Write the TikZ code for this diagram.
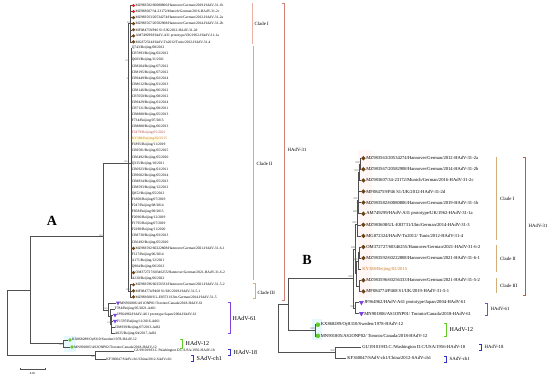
\documentclass[tikz,border=0pt]{standalone}
\usepackage{fontspec}
\setmainfont{Liberation Serif}
\usepackage{tikz}
\usetikzlibrary{calc,positioning,shapes.geometric}

\definecolor{treegray}{HTML}{505050}
\definecolor{refbrown}{HTML}{6E4210}
\definecolor{refred}{HTML}{E41A1C}
\definecolor{advpurple}{HTML}{8045E0}
\definecolor{advgreen}{HTML}{66CC2A}
\definecolor{advblue}{HTML}{3030C8}
\definecolor{cladetan}{HTML}{D4AE78}
\definecolor{cladepink}{HTML}{E8B2A2}
\definecolor{hadvred}{HTML}{C0584A}
\definecolor{kyorange}{HTML}{D07820}
\definecolor{fred}{HTML}{B04848}

%% tip positions
\newcommand{\ya}[1]{5.5+6.07*#1}
\newcommand{\yb}[1]{158.2+11.1*#1}
%% plain tip: name, x, y, text
\newcommand{\leafA}[4]{\coordinate (#1) at (#2,{#3});
  \node[leafa] (#1-l) at (#1) {#4};}
\newcommand{\leafB}[4]{\coordinate (#1) at (#2,{#3});
  \node[leafb] (#1-l) at ([xshift=1pt]#1) {#4};}
%% marked tip: name, x, y, mark, text
\newcommand{\markA}[5]{\coordinate (#1) at (#2,{#3});
  \node[#4] (#1-m) at ([xshift=2pt]#1) {};
  \node[leafa] (#1-l) at ([xshift=3.8pt]#1) {#5};}
\newcommand{\markB}[5]{\coordinate (#1) at (#2,{#3});
  \node[#4] (#1-m) at ([xshift=2.4pt]#1) {};
  \node[leafb] (#1-l) at ([xshift=5pt]#1) {#5};}
%% bracket: x, top, bottom, colour
\newcommand{\brk}[4]{\draw[bk,#4] (#1-2,#2) -- (#1,#2) -- (#1,#3) -- (#1-2,#3);}
%% clade bar: x, top, bottom, colour
\newcommand{\cbar}[4]{\draw[bk,#4] (#1,#2) -- (#1,#3);}

\begin{document}
\begin{tikzpicture}[
    x=1pt, y=-1pt,
    branch/.style={draw=treegray, line width=0.45pt},
    leafa/.style={anchor=west, inner sep=0.2pt, font=\fontsize{3.6}{4}\selectfont},
    leafb/.style={anchor=west, inner sep=0.2pt, font=\fontsize{4.6}{5}\selectfont},
    boot/.style={anchor=south east, inner sep=0.3pt, font=\fontsize{2.4}{2.6}\selectfont, text=treegray},
    bootb/.style={boot, font=\fontsize{2.8}{3}\selectfont},
    refdot/.style={circle, fill=refred, inner sep=0pt, minimum size=3.2pt},
    refdia/.style={diamond, fill=refbrown, inner sep=0pt, minimum size=3.6pt},
    refdiab/.style={refdia, minimum size=4.6pt},
    tri/.style={regular polygon, regular polygon sides=3, shape border rotate=180,
        fill=advpurple, inner sep=0pt, minimum size=4.8pt},
    trib/.style={tri, minimum size=5.6pt},
    gdot/.style={circle, fill=advgreen, inner sep=0pt, minimum size=3.8pt},
    gdotb/.style={gdot, minimum size=4.6pt},
    bk/.style={line width=0.7pt},
    cladelab/.style={anchor=west, inner sep=0.5pt, font=\fontsize{4.8}{5}\selectfont},
    typelab/.style={anchor=west, inner sep=0.5pt, font=\fontsize{6}{6}\selectfont},
    panel/.style={font=\fontsize{14}{14}\selectfont\bfseries}
]
    \useasboundingbox (0,0) rectangle (550,378);
    %% light highlights
    \fill[pink!14] (358,150) rectangle (372,298);
    \fill[cyan!10] (312,319) rectangle (322,340);
    \fill[cyan!10] (64,336) rectangle (76,352);
    \fill[yellow!12] (131.5,136.5) rectangle (160,141.6);

    %% ===== Panel A: tips =====
    \markA{a0}{131.5}{\ya{0}}{refdot}{MZ983582/60080806/Hannover/German/2019-HAdV-31-1b}
    \markA{a1}{131.5}{\ya{1}}{refdot}{MZ983607/34-23172/Munich/German/2016-HAdV-31-2c}
    \markA{a2}{131.5}{\ya{2}}{refdia}{MZ983563/20534274/Hannover/German/2012-HAdV-31-2a}
    \markA{a3}{131.5}{\ya{3}}{refdia}{MZ983567/20582908/Hannover/German/2014-HAdV-31-2b}
    \markA{a4}{131.5}{\ya{4}}{refdia}{MF084759/P46 S1/UK/2012-HAdV-31-2d}
    \markA{a5}{131.5}{\ya{5}}{refdia}{AM749299/HAdV-A31 prototype/UK/1962-HAdV-31-1a}
    \markA{a6}{131.5}{\ya{6}}{refdia}{MG872324/HAdV-Tn2012/Tunis/2012-HAdV-31-4}
    \leafA{a7}{131.5}{\ya{7}}{Q743/Beijing/08/2012}
    \leafA{a8}{131.5}{\ya{8}}{CR7893/Beijing/02/2012}
    \leafA{a9}{131.5}{\ya{9}}{Q603/Beijing/11/2011}
    \leafA{a10}{131.5}{\ya{10}}{CR8204/Beijing/07/2012}
    \leafA{a11}{131.5}{\ya{11}}{CR8195/Beijing/07/2012}
    \leafA{a12}{131.5}{\ya{12}}{CR9449/Beijing/02/2014}
    \leafA{a13}{131.5}{\ya{13}}{CR8612/Beijing/01/2013}
    \leafA{a14}{131.5}{\ya{14}}{CR8146/Beijing/06/2012}
    \leafA{a15}{131.5}{\ya{15}}{CR7050/Beijing/08/2012}
    \leafA{a16}{131.5}{\ya{16}}{CR9429/Beijing/01/2014}
    \leafA{a17}{131.5}{\ya{17}}{CR7121/Beijing/08/2011}
    \leafA{a18}{131.5}{\ya{18}}{CR8808/Beijing/05/2013}
    \leafA{a19}{131.5}{\ya{19}}{F734/Beijing/07/2015}
    \leafA{a20}{131.5}{\ya{20}}{CR8888/Beijing/06/2013}
    \leafA{a21}{131.5}{\ya{21}}{\textcolor{fred}{F2479/Beijing/05/2021}}
    \leafA{a22}{131.5}{\ya{22}}{\textcolor{kyorange}{KY388/Beijing/02/2015}}
    \leafA{a23}{131.5}{\ya{23}}{F1895/Beijing/11/2019}
    \leafA{a24}{131.5}{\ya{24}}{CR9581/Beijing/05/2015}
    \leafA{a25}{131.5}{\ya{25}}{CR6492/Beijing/05/2010}
    \leafA{a26}{131.5}{\ya{26}}{Q335/Beijing/10/2011}
    \leafA{a27}{131.5}{\ya{27}}{CR6923/Beijing/01/2011}
    \leafA{a28}{131.5}{\ya{28}}{CR9602/Beijing/05/2014}
    \leafA{a29}{131.5}{\ya{29}}{CR8834/Beijing/05/2013}
    \leafA{a30}{131.5}{\ya{30}}{CR8593/Beijing/12/2012}
    \leafA{a31}{131.5}{\ya{31}}{Q852/Beijing/05/2012}
    \leafA{a32}{131.5}{\ya{32}}{F1800/Beijing/07/2019}
    \leafA{a33}{131.5}{\ya{33}}{F247/Beijing/08/2014}
    \leafA{a34}{131.5}{\ya{34}}{F858/Beijing/09/2015}
    \leafA{a35}{131.5}{\ya{35}}{F2096/Beijing/12/2019}
    \leafA{a36}{131.5}{\ya{36}}{F1795/Beijing/07/2019}
    \leafA{a37}{131.5}{\ya{37}}{F2290/Beijing/11/2020}
    \leafA{a38}{131.5}{\ya{38}}{CR8730/Beijing/03/2013}
    \leafA{a39}{131.5}{\ya{39}}{CR6492/Beijing/05/2010}
    \markA{a40}{131.5}{\ya{40}}{refdia}{MZ983592/60222808/Hannover/German/2021-HAdV-31-6-1}
    \leafA{a41}{131.5}{\ya{41}}{F127/Beijing/06/2014}
    \leafA{a42}{131.5}{\ya{42}}{A171/Beijing/12/2021}
    \leafA{a43}{131.5}{\ya{43}}{Q904/Beijing/06/2012}
    \markA{a44}{131.5}{\ya{44}}{refdia}{OM372727/60346255/Hannover/German/2021-HAdV-31-6-2}
    \leafA{a45}{131.5}{\ya{45}}{A220/Beijing/06/2022}
    \markA{a46}{131.5}{\ya{46}}{refdia}{MZ983596/60256333/Hannover/German/2021-HAdV-31-5-2}
    \markA{a47}{131.5}{\ya{47}}{refdia}{MF084774/P468 S1/UK/2019-HAdV-31-5-1}
    \markA{a48}{131.5}{\ya{48}}{refdia}{MZ983608/UL-E83731/Ulm/German/2014-HAdV-31-5}
    \markA{a49}{116}{\ya{49}}{tri}{MN901806/AS1ONP01/Toronto/Canada/2018-HAdV-61}
    \leafA{a50}{114.5}{\ya{50}}{F784/Beijing/05/2021-Ad61}
    \markA{a51}{113}{\ya{51}}{tri}{JF964962/HAdV-A61 prototype/Japan/2004-HAdV-61}
    \markA{a52}{113}{\ya{52}}{tri}{F1597/Beijing/11/2016-Ad61}
    \leafA{a53}{114.5}{\ya{53}}{CR8939/Beijing/07/2013-Ad61}
    \leafA{a54}{114.5}{\ya{54}}{A825/Beijing/04/2017-Ad61}
    \markA{a55}{68}{340}{gdot}{KX868289/Oy8310/Sweden/1978-HAdV-12}
    \markA{a56}{70}{347}{gdot}{MN901805/AS2ONP02/Toronto/Canada/2018-HAdV-12}
    \leafA{a57}{134}{351}{GU191019/D.C./Washington D.C/USA/1956-HAdV-18}
    \leafA{a58}{106}{359}{KF360047/SAdV-ch1/China/2012-SAdV-ch1}

    %% Panel A: inner nodes
    \coordinate (cI) at (130,23.71);
    \coordinate (cII) at (131,163.32);
    \coordinate (cIII) at (130,290.79);
    \coordinate (r31) at (128,163.32);
    \coordinate (g61c) at (111.5,324.2);
    \coordinate (g61b) at (110,316.6);
    \coordinate (g61a) at (108,309.8);
    \coordinate (n61) at (103,236.56);
    \coordinate (n12) at (63,343.5);
    \coordinate (n30) at (30,290);
    \coordinate (ogA) at (95,355);
    \coordinate (rootA) at (7,322.5);

    %% Panel A: branches
    \foreach \i in {0,...,6} \draw[branch] (cI) |- (a\i);
    \foreach \i in {7,...,45} \draw[branch] (cII) |- (a\i);
    \foreach \i in {46,47,48} \draw[branch] (cIII) |- (a\i);
    \foreach \c in {cI,cII,cIII} \draw[branch] (r31) |- (\c);
    \foreach \i in {51,...,54} \draw[branch] (g61c) |- (a\i);
    \draw[branch] (g61b) |- (a50);
    \draw[branch] (g61b) |- (g61c);
    \draw[branch] (g61a) |- (a49);
    \draw[branch] (g61a) |- (g61b);
    \draw[branch] (n61) |- (r31);
    \draw[branch] (n61) |- (g61a);
    \draw[branch] (n12) |- (a55);
    \draw[branch] (n12) |- (a56);
    \draw[branch] (n30) |- (n61);
    \draw[branch] (n30) |- (n12);
    \draw[branch] (ogA) |- (a57);
    \draw[branch] (ogA) |- (a58);
    \draw[branch] (rootA) |- (n30);
    \draw[branch] (rootA) |- (ogA);

    %% Panel A: bootstrap values
    \node[boot] at (r31) {100};
    \node[boot] at (n61) {100};
    \node[boot] at (cI) {99};
    \node[boot] at (cIII) {100};
    \node[boot] at (g61a) {100};
    \node[boot] at (g61c) {100};
    \node[boot] at (129.5,62) {100};
    \node[boot] at (129.5,80) {98};
    \node[boot, anchor=north east] at (n12) {100};
    \node[boot, anchor=north east] at (ogA) {100};

    %% Panel A: scale bar
    \coordinate (sbl) at (20,369);
    \coordinate (sbr) at (45,369);
    \draw[branch] ([yshift=1.5pt]sbl) -- (sbl) -- (sbr) -- ([yshift=1.5pt]sbr);
    \node[font=\fontsize{3}{3}\selectfont, inner sep=0.5pt] (sbtext) at (32.5,374) {0.05};

    %% Panel A: brackets
    \cbar{252}{3}{44}{cladepink}
    \cbar{253.5}{46}{280}{cladetan}
    \brk{255}{283}{298}{cladetan}
    \brk{284}{3}{300}{hadvred!75}
    \brk{230}{302}{333}{advpurple}
    \brk{182}{339}{348}{advgreen}
    \brk{230}{349}{355}{advblue}
    \brk{193}{355.5}{361}{advblue}
    \node[cladelab] (cIa) at (254,24) {Clade I};
    \node[cladelab] (cIIa) at (256,164) {Clade II};
    \node[cladelab] (cIIIa) at (257,292.5) {Clade III};
    \node[cladelab] (h31a) at (287,150) {HAdV-31};
    \node[typelab] (h61a) at (232,318) {HAdV-61};
    \node[typelab] (h12a) at (185,343.5) {HAdV-12};
    \node[typelab] (h18a) at (233,352) {HAdV-18};
    \node[typelab] (sch1a) at (196,358.5) {SAdV-ch1};
    \node[panel] (labA) at (52,221) {A};

    %% ===== Panel B: tips =====
    \markB{b0}{361}{\yb{0}}{refdiab}{MZ983563/20534274/Hannover/German/2012-HAdV-31-2a}
    \markB{b1}{361}{\yb{1}}{refdiab}{MZ983567/20582908/Hannover/German/2014-HAdV-31-2b}
    \markB{b2}{361}{\yb{2}}{refdiab}{MZ983607/34-23172/Munich/German/2016-HAdV-31-2c}
    \markB{b3}{361}{\yb{3}}{refdiab}{MF084759/P46 S1/UK/2012-HAdV-31-2d}
    \markB{b4}{361}{\yb{4}}{refdiab}{MZ983582/60080806/Hannover/German/2019-HAdV-31-1b}
    \markB{b5}{361}{\yb{5}}{refdiab}{AM749299/HAdV-A31 prototype/UK/1962-HAdV-31-1a}
    \markB{b6}{361}{\yb{6}}{refdiab}{MZ983608/UL-E83731/Ulm/German/2014-HAdV-31-3}
    \markB{b7}{361}{\yb{7}}{refdiab}{MG872324/HAdV-Tn2012/ Tunis/2012-HAdV-31-4}
    \markB{b8}{361}{\yb{8}}{refdiab}{OM372727/60346255/Hannover/German/2021-HAdV-31-6-2}
    \markB{b9}{361}{\yb{9}}{refdiab}{MZ983592/60222808/Hannover/German/2021-HAdV-31-6-1}
    \leafB{b10}{361}{\yb{10}}{\textcolor{kyorange}{KY388/Beijing/02/2015}}
    \markB{b11}{361}{\yb{11}}{refdiab}{MZ983596/60256333/Hannover/German/2021-HAdV-31-5-2}
    \markB{b12}{361}{\yb{12}}{refdiab}{MF084774/P468 S1/UK/2019-HAdV-31-5-1}
    \markB{b13}{359}{\yb{13}}{trib}{JF964962/HAdV-A61 prototype/Japan/2004-HAdV-61}
    \markB{b14}{359}{\yb{14}}{trib}{MN901806/AS1ONP01/ Toronto/Canada/2018-HAdV-61}
    \markB{b15}{315.5}{\yb{15}}{gdotb}{KX868289/Oy8310/Sweden/1978-HAdV-12}
    \markB{b16}{315.5}{\yb{16}}{gdotb}{MN901805/AS2ONP02/ Toronto/Canada/2018-HAdV-12}
    \leafB{b17}{361}{\yb{17}}{GU191019/D.C./Washington D.C/USA/1956-HAdV-18}
    \leafB{b18}{346}{\yb{18}}{KF360047/SAdV-ch1/China/2012-SAdV-ch1}

    %% Panel B: inner nodes
    \coordinate (p1) at (360,163.75);
    \coordinate (p2) at (359,172.08);
    \coordinate (p3) at (358.5,187.34);
    \coordinate (p4) at (358,200.52);
    \coordinate (p5) at (357.5,212.66);
    \coordinate (p6) at (357,224.28);
    \coordinate (q1) at (359,252.55);
    \coordinate (q2) at (358,260.88);
    \coordinate (s1) at (359,285.85);
    \coordinate (e1) at (356.5,273.37);
    \coordinate (r31b) at (355.5,248.82);
    \coordinate (g61) at (355,308.05);
    \coordinate (n1b) at (353,278.44);
    \coordinate (h12b) at (315,330.25);
    \coordinate (n2b) at (288,304.35);
    \coordinate (ogB) at (335,352.45);
    \coordinate (rootB) at (278,328.4);

    %% Panel B: branches
    \draw[branch] (p1) |- (b0);  \draw[branch] (p1) |- (b1);
    \draw[branch] (p2) |- (p1);  \draw[branch] (p2) |- (b2);
    \draw[branch] (p3) |- (p2);  \draw[branch] (p3) |- (b3);  \draw[branch] (p3) |- (b4);
    \draw[branch] (p4) |- (p3);  \draw[branch] (p4) |- (b5);
    \draw[branch] (p5) |- (p4);  \draw[branch] (p5) |- (b6);
    \draw[branch] (p6) |- (p5);  \draw[branch] (p6) |- (b7);
    \draw[branch] (q1) |- (b8);  \draw[branch] (q1) |- (b9);
    \draw[branch] (q2) |- (q1);  \draw[branch] (q2) |- (b10);
    \draw[branch] (s1) |- (b11); \draw[branch] (s1) |- (b12);
    \draw[branch] (e1) |- (q2);  \draw[branch] (e1) |- (s1);
    \draw[branch] (r31b) |- (p6); \draw[branch] (r31b) |- (e1);
    \draw[branch] (g61) |- (b13); \draw[branch] (g61) |- (b14);
    \draw[branch] (n1b) |- (r31b); \draw[branch] (n1b) |- (g61);
    \draw[branch] (h12b) |- (b15); \draw[branch] (h12b) |- (b16);
    \draw[branch] (n2b) |- (n1b); \draw[branch] (n2b) |- (h12b);
    \draw[branch] (ogB) |- (b17); \draw[branch] (ogB) |- (b18);
    \draw[branch] (rootB) |- (n2b); \draw[branch] (rootB) |- (ogB);

    %% Panel B: bootstrap values
    \foreach \p in {p1,p2,p4,p5,p6,q2,r31b,g61,n1b,h12b,ogB}
        \node[bootb] at (\p) {100};

    %% Panel B: brackets
    \cbar{496}{157}{240}{cladetan}
    \cbar{496}{245}{272}{cladetan}
    \cbar{496}{278}{293}{cladetan}
    \brk{525}{157}{295}{hadvred}
    \brk{487}{303}{315}{advpurple}
    \brk{446}{323}{336}{advgreen}
    \brk{481}{344.5}{350}{advblue}
    \brk{446}{356}{362}{advblue}
    \node[cladelab] (cIb) at (499.5,198.5) {Clade I};
    \node[cladelab] (cIIb) at (499.5,258.5) {Clade II};
    \node[cladelab] (cIIIb) at (499.5,285.5) {Clade III};
    \node[cladelab] (h31b) at (528,226) {HAdV-31};
    \node[cladelab] (h61b) at (490,309) {HAdV-61};
    \node[typelab] (h12lb) at (449,329.5) {HAdV-12};
    \node[cladelab] (h18b) at (484,347) {HAdV-18};
    \node[cladelab] (sch1b) at (449,359) {SAdV-ch1};
    \node[panel] (labB) at (307,260) {B};
\end{tikzpicture}
\end{document}
